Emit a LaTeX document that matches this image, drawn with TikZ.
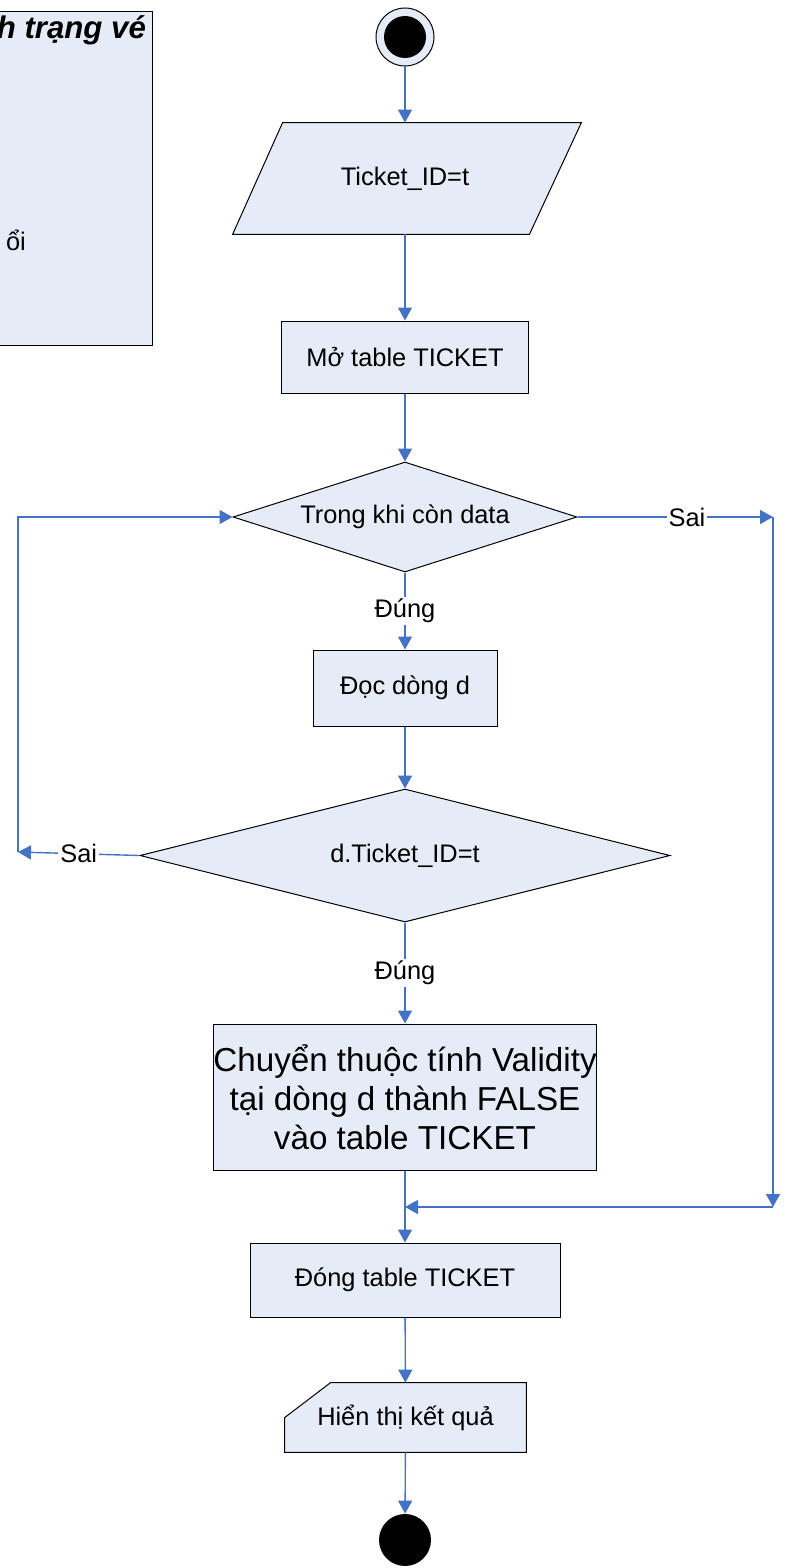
\documentclass[tikz,border=0pt]{standalone}
\usepackage{fontspec}
\setmainfont{Liberation Sans}
\usetikzlibrary{arrows.meta, calc, positioning, shapes.geometric, backgrounds}
\definecolor{boxfill}{RGB}{230,236,247}
\definecolor{flowblue}{RGB}{68,114,196}

\begin{document}
\begin{tikzpicture}[x=0.5pt, y=-0.5pt,
  every node/.style={align=center, font=\fontsize{12.7}{15}\selectfont},
  procbox/.style={draw, fill=boxfill, line width=0.5pt, inner sep=0pt},
  decision/.style={draw, diamond, fill=boxfill, line width=0.5pt, inner sep=0pt},
  flow/.style={draw=flowblue, line width=0.7pt, -{Triangle[length=6.5pt,width=7pt]}},
  lbl/.style={fill=white, inner sep=1pt}]
\useasboundingbox (0,0) rectangle (787,1568);
\clip (0,0) rectangle (787,1568);

% Note box (cut at the left edge)
\node (note) [draw, fill=boxfill, line width=0.5pt, minimum width=90pt, minimum height=166.5pt] at (62,178.5) {};
\node (title) [anchor=base east, font=\fontsize{15.6}{18}\selectfont\bfseries\itshape] at (153,39) {h trạng vé};
\node (notetext) [anchor=base west] at (-1,250) {ổi};

% Base nodes
\node (start) [circle, draw, fill=boxfill, line width=0.5pt, minimum size=29pt, inner sep=0pt] at (405,37) {};
\node (startdot) [circle, fill=black, minimum size=21pt, inner sep=0pt] at (start.center) {};
\node (input) [minimum width=148pt, minimum height=55.5pt, inner sep=0pt] at (405,178.5) {Ticket\_ID=t};
\node (open) [procbox, minimum width=123.5pt, minimum height=36pt] at (405,357) {Mở table TICKET};
\node (loop) [decision, aspect=3.13, minimum width=172pt, minimum height=55pt] at (405,517) {Trong khi còn data};
\node (read) [procbox, minimum width=92pt, minimum height=38pt] at (405,688) {Đọc dòng d};
\node (check) [decision, aspect=3.98, minimum width=265pt, minimum height=66.5pt] at (405,855.5) {d.Ticket\_ID=t};
\node (update) [procbox, minimum width=184pt, minimum height=73pt, font=\fontsize{16.6}{19.5}\selectfont] at (405,1097)
  {Chuyển thuộc tính Validity\\tại dòng d thành FALSE\\vào table TICKET};
\node (close) [procbox, minimum width=155pt, minimum height=37pt] at (405,1280) {Đóng table TICKET};
\node (show) [minimum width=120.5pt, minimum height=34.5pt, inner sep=0pt] at (405.5,1417.5) {Hiển thị kết quả};
\node (stop) [circle, fill=black, minimum size=26pt, inner sep=0pt] at (405,1540) {};

% Outlines behind the input and output texts
\begin{scope}[on background layer]
\filldraw[fill=boxfill, line width=0.5pt] ($(input.north west)+(26,0)$) -- ($(input.north east)+(28,0)$)
  -- ($(input.south east)+(-24,0)$) -- ($(input.south west)+(-24,0)$) -- cycle;
\filldraw[fill=boxfill, line width=0.5pt] (show.south west) -- ($(show.north west)+(0,35)$)
  -- ($(show.north west)+(46,0)$) -- (show.north east) -- (show.south east) -- cycle;
\end{scope}

% Corners of the loops
\coordinate (rtop) at (773,517);
\coordinate (rbot) at (773,1207);
\coordinate (join) at (405,1207);
\coordinate (lbot) at (18,852);
\coordinate (ltop) at (18,517);

% Arrows
\draw[flow] (start) -- (input);
\draw[flow] (input) -- (open);
\draw[flow] (open) -- (loop);
\draw[flow] (loop) -- node[lbl] {Đúng} (read);
\draw[flow] (read) -- (check);
\draw[flow] (check) -- node[lbl] {Đúng} (update);
\draw[flow] (update) -- (close);
\draw[flow] (close) -- (show);
\draw[flow] (show) -- (stop);

% Loops back
\draw[flow] (loop.east) -- node[lbl, pos=0.56] {Sai} (rtop);
\draw[flow] (rtop) -- (rbot);
\draw[flow] (rbot) -- (join);
\draw[flow] (check.west) -- node[lbl] {Sai} (lbot);
\draw[flow] (lbot) -- (ltop) -- (loop.west);
\end{tikzpicture}
\end{document}
